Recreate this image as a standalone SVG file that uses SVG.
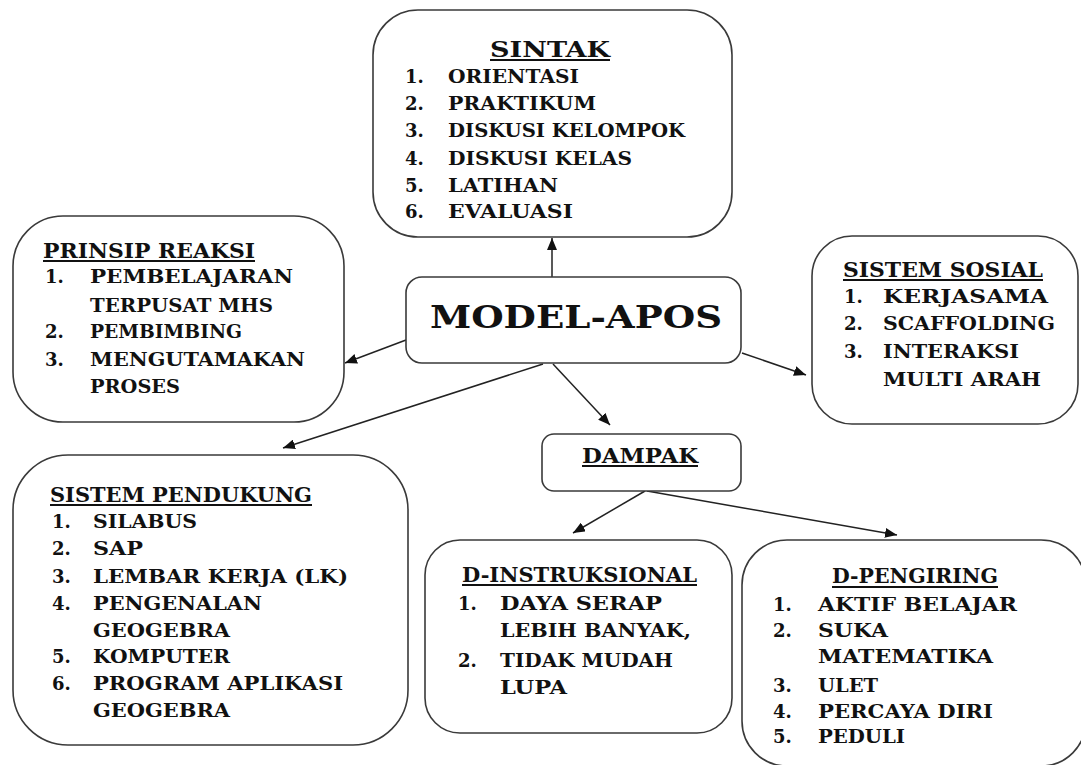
<svg xmlns="http://www.w3.org/2000/svg" width="1081" height="765" viewBox="0 0 1081 765">
<style>
.box{fill:#fff;stroke:#3a3a3a;stroke-width:1.6}
text{font-family:"DejaVu Serif","Liberation Serif",serif;font-weight:bold;fill:#111;font-size:18px}
.ttl{font-size:20px}
.big{font-size:32px}
.st{font-size:23px}
.ul{stroke:#111;stroke-width:2}
.con{stroke:#222;stroke-width:1.5;fill:none;marker-end:url(#ah)}
</style>
<defs>
<marker id="ah" viewBox="0 0 12 10" refX="12" refY="5" markerWidth="12" markerHeight="10" markerUnits="userSpaceOnUse" orient="auto">
<path d="M0,0 L12,5 L0,10 Z" fill="#111"/>
</marker>
</defs>
<g id="connectors">
<line class="con" x1="552" y1="277" x2="552" y2="238"/>
<line class="con" x1="406" y1="340" x2="345" y2="363"/>
<line class="con" x1="742" y1="353" x2="806" y2="375"/>
<line class="con" x1="543" y1="364" x2="283" y2="448"/>
<line class="con" x1="553" y1="364" x2="610" y2="425"/>
<line class="con" x1="645" y1="491" x2="573" y2="533"/>
<line class="con" x1="647" y1="491" x2="897" y2="535"/>
</g>
<g id="sintak">
<rect class="box" x="373" y="10" width="359" height="227" rx="45"/>
<text class="st" x="490" y="57" textLength="120" lengthAdjust="spacingAndGlyphs">SINTAK</text>
<line class="ul" x1="490" y1="60" x2="610" y2="60"/>
<text x="405" y="83">1.</text><text x="448" y="83" textLength="131" lengthAdjust="spacingAndGlyphs">ORIENTASI</text>
<text x="405" y="110">2.</text><text x="448" y="110" textLength="148" lengthAdjust="spacingAndGlyphs">PRAKTIKUM</text>
<text x="405" y="137">3.</text><text x="448" y="137" textLength="237" lengthAdjust="spacingAndGlyphs">DISKUSI KELOMPOK</text>
<text x="405" y="165">4.</text><text x="448" y="165" textLength="184" lengthAdjust="spacingAndGlyphs">DISKUSI KELAS</text>
<text x="405" y="192">5.</text><text x="448" y="192" textLength="110" lengthAdjust="spacingAndGlyphs">LATIHAN</text>
<text x="405" y="218">6.</text><text x="448" y="218" textLength="125" lengthAdjust="spacingAndGlyphs">EVALUASI</text>
</g>
<g id="prinsip-reaksi">
<rect class="box" x="13" y="216" width="331" height="206" rx="50"/>
<text class="ttl" x="43" y="258" textLength="212" lengthAdjust="spacingAndGlyphs">PRINSIP REAKSI</text>
<line class="ul" x1="43" y1="261" x2="255" y2="261"/>
<text x="45" y="283">1.</text><text x="90" y="283" textLength="203" lengthAdjust="spacingAndGlyphs">PEMBELAJARAN</text>
<text x="90" y="312" textLength="183" lengthAdjust="spacingAndGlyphs">TERPUSAT MHS</text>
<text x="45" y="338">2.</text><text x="90" y="338" textLength="152" lengthAdjust="spacingAndGlyphs">PEMBIMBING</text>
<text x="45" y="366">3.</text><text x="90" y="366" textLength="215" lengthAdjust="spacingAndGlyphs">MENGUTAMAKAN</text>
<text x="90" y="393" textLength="90" lengthAdjust="spacingAndGlyphs">PROSES</text>
</g>
<g id="sistem-sosial">
<rect class="box" x="812" y="236" width="266" height="188" rx="40"/>
<text class="ttl" x="843" y="277" textLength="200" lengthAdjust="spacingAndGlyphs">SISTEM SOSIAL</text>
<line class="ul" x1="843" y1="280" x2="1043" y2="280"/>
<text x="844" y="303">1.</text><text x="883" y="303" textLength="165" lengthAdjust="spacingAndGlyphs">KERJASAMA</text>
<text x="844" y="330">2.</text><text x="883" y="330" textLength="172" lengthAdjust="spacingAndGlyphs">SCAFFOLDING</text>
<text x="844" y="358">3.</text><text x="883" y="358" textLength="136" lengthAdjust="spacingAndGlyphs">INTERAKSI</text>
<text x="883" y="386" textLength="158" lengthAdjust="spacingAndGlyphs">MULTI ARAH</text>
</g>
<g id="model-apos">
<rect class="box" x="406" y="277" width="335" height="86" rx="16"/>
<text class="big" x="430" y="328" textLength="292" lengthAdjust="spacingAndGlyphs">MODEL-APOS</text>
</g>
<g id="dampak">
<rect class="box" x="542" y="434" width="199" height="57" rx="12"/>
<text class="ttl" x="582" y="463" textLength="116" lengthAdjust="spacingAndGlyphs">DAMPAK</text>
<line class="ul" x1="582" y1="466" x2="698" y2="466"/>
</g>
<g id="sistem-pendukung">
<rect class="box" x="13" y="455" width="395" height="290" rx="55"/>
<text class="ttl" x="50" y="502" textLength="262" lengthAdjust="spacingAndGlyphs">SISTEM PENDUKUNG</text>
<line class="ul" x1="50" y1="505" x2="312" y2="505"/>
<text x="52" y="528">1.</text><text x="93" y="528" textLength="104" lengthAdjust="spacingAndGlyphs">SILABUS</text>
<text x="52" y="555">2.</text><text x="93" y="555" textLength="50" lengthAdjust="spacingAndGlyphs">SAP</text>
<text x="52" y="583">3.</text><text x="93" y="583" textLength="255" lengthAdjust="spacingAndGlyphs">LEMBAR KERJA (LK)</text>
<text x="52" y="610">4.</text><text x="93" y="610" textLength="169" lengthAdjust="spacingAndGlyphs">PENGENALAN</text>
<text x="93" y="637" textLength="137" lengthAdjust="spacingAndGlyphs">GEOGEBRA</text>
<text x="52" y="663">5.</text><text x="93" y="663" textLength="137" lengthAdjust="spacingAndGlyphs">KOMPUTER</text>
<text x="52" y="690">6.</text><text x="93" y="690" textLength="250" lengthAdjust="spacingAndGlyphs">PROGRAM APLIKASI</text>
<text x="93" y="717" textLength="137" lengthAdjust="spacingAndGlyphs">GEOGEBRA</text>
</g>
<g id="d-instruksional">
<rect class="box" x="425" y="540" width="307" height="193" rx="35"/>
<text class="ttl" x="462" y="582" textLength="235" lengthAdjust="spacingAndGlyphs">D-INSTRUKSIONAL</text>
<line class="ul" x1="462" y1="585" x2="697" y2="585"/>
<text x="458" y="610">1.</text><text x="500" y="610" textLength="162" lengthAdjust="spacingAndGlyphs">DAYA SERAP</text>
<text x="500" y="637" textLength="191" lengthAdjust="spacingAndGlyphs">LEBIH BANYAK,</text>
<text x="458" y="667">2.</text><text x="500" y="667" textLength="173" lengthAdjust="spacingAndGlyphs">TIDAK MUDAH</text>
<text x="500" y="694" textLength="67" lengthAdjust="spacingAndGlyphs">LUPA</text>
</g>
<g id="d-pengiring">
<rect class="box" x="742" y="540" width="344" height="226" rx="45"/>
<text class="ttl" x="832" y="583" textLength="166" lengthAdjust="spacingAndGlyphs">D-PENGIRING</text>
<line class="ul" x1="832" y1="587" x2="998" y2="587"/>
<text x="773" y="611">1.</text><text x="818" y="611" textLength="199" lengthAdjust="spacingAndGlyphs">AKTIF BELAJAR</text>
<text x="773" y="637">2.</text><text x="818" y="637" textLength="70" lengthAdjust="spacingAndGlyphs">SUKA</text>
<text x="818" y="663" textLength="175" lengthAdjust="spacingAndGlyphs">MATEMATIKA</text>
<text x="773" y="692">3.</text><text x="818" y="692" textLength="60" lengthAdjust="spacingAndGlyphs">ULET</text>
<text x="773" y="718">4.</text><text x="818" y="718" textLength="175" lengthAdjust="spacingAndGlyphs">PERCAYA DIRI</text>
<text x="773" y="743">5.</text><text x="818" y="743" textLength="87" lengthAdjust="spacingAndGlyphs">PEDULI</text>
</g>
</svg>
